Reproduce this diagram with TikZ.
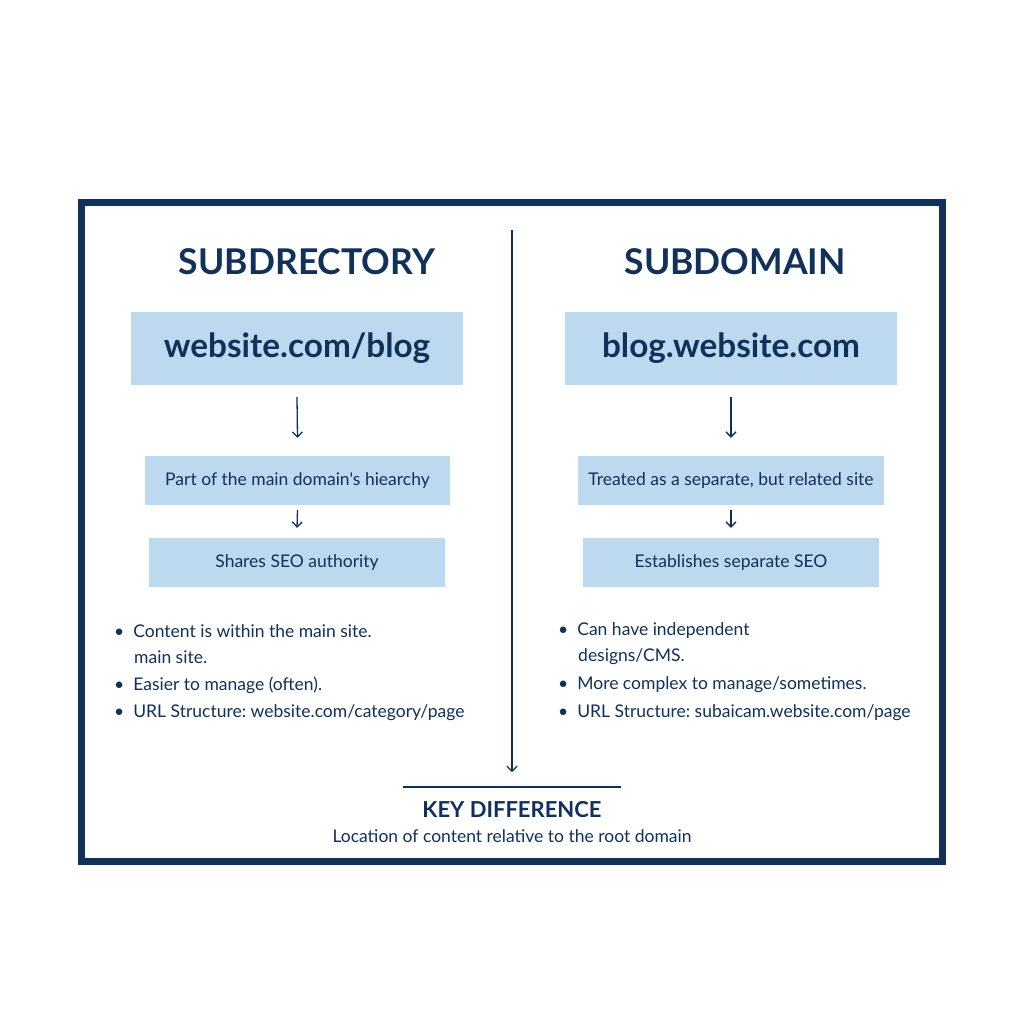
\documentclass[tikz,border=0pt]{standalone}
\usepackage{fontspec}
\setmainfont{Lato}[Ligatures=TeXOff]
\usetikzlibrary{arrows.meta}
\definecolor{navy}{HTML}{11305A}
\definecolor{boxblue}{HTML}{BDD9EF}
\frenchspacing
\tikzset{
  title/.style={font=\fontsize{35.5}{40}\selectfont\bfseries, text=navy, inner sep=0pt},
  urlbox/.style={fill=boxblue, minimum width=332pt, minimum height=73pt, inner sep=0pt, font=\fontsize{33.3}{36}\selectfont\bfseries, text=navy},
  infobox/.style={fill=boxblue, minimum height=49pt, inner sep=0pt, font=\fontsize{17.5}{20}\selectfont, text=navy},
  bullet/.style={font=\fontsize{17.5}{20}\selectfont, text=navy, anchor=west, inner sep=0pt},
  flow/.style={draw=navy, line width=1.3pt, -{Straight Barb[length=5pt,width=10pt]}},
}
\begin{document}
\begin{tikzpicture}[x=1pt,y=-1pt]
\useasboundingbox (0,0) rectangle (1024,1024);
\fill[white] (0,0) rectangle (1024,1024);
% frame
\draw[navy, line width=7pt] (81.5,202.5) rectangle (942.5,861.5);
% divider
\coordinate (dtop) at (512,230);
\coordinate (dbot) at (512,772);
\draw[flow, line width=1.2pt] (dtop) -- (dbot);
% titles
\node[title] (t1) at (307,262) {SUBDRECTORY};
\node[title] (t2) at (735,262) {SUBDOMAIN};
% url boxes
\node[urlbox] (u1) at (297,348.5) {\raisebox{-1pt}{website.com/blog}};
\node[urlbox] (u2) at (731,348.5) {\raisebox{-1pt}{blog.website.com}};
% second boxes
\node[infobox, minimum width=305pt] (a1) at (297.5,480.5) {Part of the main domain's hiearchy};
\node[infobox, minimum width=306pt] (a2) at (731,480.5) {Treated as a separate, but related site};
% third boxes
\node[infobox, minimum width=296pt] (b1) at (297,562.5) {Shares SEO authority};
\node[infobox, minimum width=296pt] (b2) at (731,562.5) {Establishes separate SEO};
% arrows
\draw[flow] ([yshift=-12pt]u1.south) -- ([yshift=18pt]a1.north);
\draw[flow] ([yshift=-12pt]u2.south) -- ([yshift=18pt]a2.north);
\draw[flow] ([yshift=-5pt]a1.south) -- ([yshift=10pt]b1.north);
\draw[flow] ([yshift=-5pt]a2.south) -- ([yshift=10pt]b2.north);
% bullets left
\node[bullet] (l1) at (114,631) {\textbullet\hspace{9pt}Content is within the main site.};
\node[bullet] (l1b) at (134,657) {main site.};
\node[bullet] (l2) at (114,685) {\textbullet\hspace{9pt}Easier to manage (often).};
\node[bullet] (l3) at (114,713) {\textbullet\hspace{9pt}URL Structure: website.com/category/page};
% bullets right
\node[bullet] (r1) at (558,631) {\textbullet\hspace{9pt}Can have independent};
\node[bullet] (r1b) at (578,657) {designs/CMS.};
\node[bullet] (r2) at (558,685) {\textbullet\hspace{9pt}More complex to manage/sometimes.};
\node[bullet] (r3) at (558,713) {\textbullet\hspace{9pt}URL Structure: subaicam.website.com/page};
% key difference
\coordinate (hl) at (403,787);
\coordinate (hr) at (621,787);
\draw[navy, line width=2pt] (hl) -- (hr);
\node[font=\fontsize{22}{26}\selectfont\bfseries, text=navy, inner sep=0pt] (kd) at (512,810) {KEY DIFFERENCE};
\node[font=\fontsize{17.5}{20}\selectfont, text=navy, inner sep=0pt] (kdt) at (512,836) {Location of content relative to the root domain};
\end{tikzpicture}
\end{document}
